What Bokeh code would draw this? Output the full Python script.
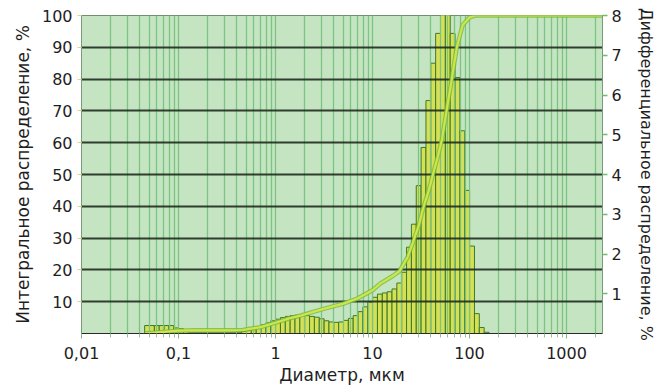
import math
from bokeh.plotting import figure
from bokeh.models import (Range1d, LinearAxis, FixedTicker, CustomJSTickFormatter,
                          ColumnDataSource)
from bokeh.embed import file_html
from bokeh.resources import INLINE

# ---------------- data ----------------
x_major = [0.01, 0.1, 1, 10, 100, 1000]
x_minor = [m * 10.0 ** e for e in range(-2, 4) for m in range(2, 10) if m * 10.0 ** e < 2350]
left_ticks = [10, 20, 30, 40, 50, 60, 70, 80, 90, 100]
left_grid = [0, 10, 20, 30, 40, 50, 60, 70, 80, 90, 100]
right_ticks = [1, 2, 3, 4, 5, 6, 7, 8]

# histogram bin edges, µm (analyser channels)
bin_edges = [0.04477, 0.05024, 0.05637, 0.06325, 0.07096, 0.07962, 0.08934, 0.10024,
             0.11247, 0.12619, 0.14159, 0.15887, 0.17825,
             0.2, 0.2244, 0.2518, 0.2825, 0.3170, 0.3557, 0.3991, 0.4477, 0.5024, 0.5637,
             0.6325, 0.7096, 0.7962, 0.8934, 1.0024, 1.1247, 1.2619, 1.4159, 1.5887, 1.7825,
             2.0, 2.244, 2.518, 2.825, 3.170, 3.557, 3.991, 4.477, 5.024, 5.637,
             6.325, 7.096, 7.962, 8.934, 10.02, 11.25, 12.62, 14.16, 15.89, 17.83,
             20.0, 22.44, 25.18, 28.25, 31.70, 35.57, 39.91, 44.77, 50.24, 56.37,
             63.25, 70.96, 79.62, 89.34, 100.2, 112.5, 126.2, 141.6, 158.9]
# differential distribution, %
diff_pct = [0.20, 0.20, 0.20, 0.20, 0.20, 0.20, 0.14, 0.12, 0.05, 0.03,
            0.02, 0.02, 0.02, 0.02, 0.02, 0.02, 0.02, 0.02, 0.02,
            0.03, 0.05, 0.08, 0.12, 0.17, 0.22, 0.27, 0.32, 0.36, 0.40,
            0.43, 0.45, 0.46, 0.46, 0.45, 0.43, 0.41, 0.37, 0.32, 0.29,
            0.28, 0.29, 0.33, 0.38, 0.45, 0.55, 0.67, 0.79, 0.91, 0.99,
            1.02, 1.05, 1.12, 1.27, 1.54, 2.17, 2.75, 3.72, 4.68, 5.86,
            6.80, 7.55, 8.10, 8.10, 7.55, 6.44, 5.10, 3.60, 2.20, 0.50,
            0.15, 0.03]

# integral (cumulative) distribution, %
cum_d = [0.045, 0.07, 0.1, 0.15, 0.3, 0.46, 0.7, 1.0, 1.4, 1.8, 3.0, 5.0, 7.0, 10, 12,
         16, 19, 23, 26, 30, 33, 38, 42, 47, 52, 58, 66, 74, 85, 100, 115, 2400]
cum_v = [0, 0.5, 0.9, 1.0, 1.0, 1.1, 2.0, 3.4, 4.8, 5.6, 7.6, 9.4, 11.0, 13.6, 15.7,
         18.0, 19.6, 24.0, 28.5, 34.0, 39.0, 45.0, 50.0, 55.5, 61.0, 70.0, 80.5, 90.0,
         97.0, 99.4, 100, 100]

# ---------------- figure ----------------
FONT = "DejaVu Sans"
TXT = "#1e1e1e"

p = figure(width=668, height=389, x_axis_type="log",
           x_range=Range1d(0.01, 2350), y_range=Range1d(0, 100),
           output_backend="svg", toolbar_location=None,
           min_border_left=81, min_border_right=66, min_border_top=15, min_border_bottom=56,
           background_fill_color="#c4e4c2", border_fill_color="white")
p.outline_line_color = "#6f8f6f"
p.outline_line_width = 1

p.extra_y_ranges = {"diff": Range1d(0, 8)}

src = ColumnDataSource(dict(left=bin_edges[:-1], right=bin_edges[1:], top=diff_pct))
p.quad(left="left", right="right", top="top", bottom=0, source=src,
       y_range_name="diff", fill_color="#d6e056", line_color="#3a7a28",
       line_width=1, level="underlay")

p.line(cum_d, cum_v, line_color="#78bb3c", line_width=4.5, line_alpha=0.8)
p.line(cum_d, cum_v, line_color="#cfe54c", line_width=2.2)

# x axis
xt = FixedTicker(ticks=x_major, minor_ticks=x_minor)
p.xaxis.ticker = xt
p.xaxis.formatter = CustomJSTickFormatter(code="return tick.toString().replace('.', ',');")
p.xaxis.major_label_text_font = FONT
p.xaxis.major_label_text_font_size = "16px"
p.xaxis.major_label_text_color = TXT
p.xaxis.axis_line_color = "#2a2a2a"
p.xaxis.major_tick_line_color = "#8fae8f"
p.xaxis.minor_tick_line_color = "#9fbc9f"
p.xaxis.major_tick_out = 5
p.xaxis.major_tick_in = 0
p.xaxis.minor_tick_out = 4
p.xaxis.minor_tick_in = 0
p.xaxis.major_label_standoff = 8
p.xaxis.axis_label = "Диаметр, мкм"
p.xaxis.axis_label_text_font = FONT
p.xaxis.axis_label_text_font_size = "17px"
p.xaxis.axis_label_text_font_style = "normal"
p.xaxis.axis_label_text_color = TXT
p.xaxis.axis_label_standoff = 3

p.xgrid.ticker = xt
p.xgrid.grid_line_color = "#7cc481"
p.xgrid.grid_line_width = 1.3
p.xgrid.minor_grid_line_color = "#7cc481"
p.xgrid.minor_grid_line_width = 1.3

# left axis
p.yaxis.ticker = FixedTicker(ticks=left_ticks)
p.yaxis.major_label_text_font = FONT
p.yaxis.major_label_text_font_size = "16px"
p.yaxis.major_label_text_color = TXT
p.yaxis.axis_line_color = "#7c987c"
p.yaxis.major_tick_line_color = "#d6d890"
p.yaxis.major_tick_out = 4
p.yaxis.major_tick_in = 0
p.yaxis.minor_tick_line_color = None
p.yaxis.major_label_standoff = 5
p.yaxis.axis_label = "Интегральное распределение, %"
p.yaxis.axis_label_text_font = FONT
p.yaxis.axis_label_text_font_size = "17px"
p.yaxis.axis_label_text_font_style = "normal"
p.yaxis.axis_label_text_color = TXT
p.yaxis.axis_label_standoff = 6

p.ygrid.ticker = FixedTicker(ticks=left_grid)
p.ygrid.grid_line_color = "#1f2b1f"
p.ygrid.grid_line_width = 1.8
p.ygrid.grid_line_alpha = 0.9

# right axis
ax_r = LinearAxis(y_range_name="diff", ticker=FixedTicker(ticks=right_ticks))
ax_r.major_label_text_font = FONT
ax_r.major_label_text_font_size = "16px"
ax_r.major_label_text_color = TXT
ax_r.axis_line_color = "#7c987c"
ax_r.major_tick_line_color = "#6cbf6c"
ax_r.major_tick_line_width = 1.5
ax_r.major_tick_out = 5
ax_r.major_tick_in = 0
ax_r.minor_tick_line_color = None
ax_r.major_label_standoff = 4
ax_r.axis_label = "Дифференциальное распределение, %"
ax_r.axis_label_text_font = FONT
ax_r.axis_label_text_font_size = "16px"
ax_r.axis_label_text_font_style = "normal"
ax_r.axis_label_text_color = TXT
ax_r.axis_label_standoff = 12
p.add_layout(ax_r, "right")

open("out.html", "w").write(file_html(p, INLINE))
